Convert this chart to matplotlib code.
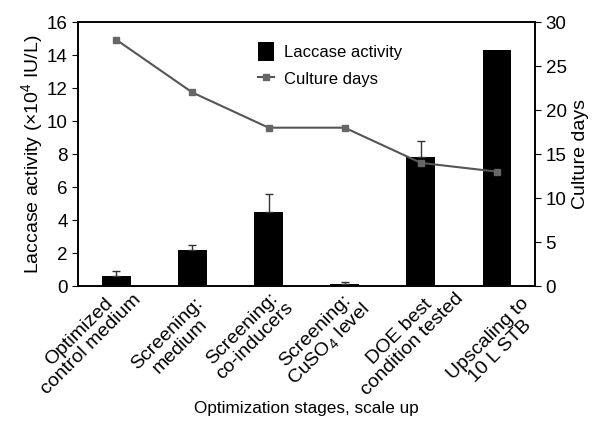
import matplotlib
matplotlib.use("Agg")
import matplotlib.pyplot as plt
import matplotlib.transforms as mtransforms
import numpy as np

plt.rcParams["font.family"] = ["Liberation Sans", "DejaVu Sans"]
plt.rcParams["mathtext.fontset"] = "custom"
plt.rcParams["mathtext.rm"] = "Liberation Sans"
plt.rcParams["mathtext.it"] = "Liberation Sans:italic"

stages = [
    "Optimized\ncontrol medium",
    "Screening:\nmedium",
    "Screening:\nco-inducers",
    "Screening:\nCuSO$_4$ level",
    "DOE best\ncondition tested",
    "Upscaling to\n10 L STB",
]
laccase = [0.6, 2.2, 4.5, 0.15, 7.8, 14.3]
laccase_err = [0.3, 0.3, 1.1, 0.07, 1.0, 0.0]
culture_days = [28, 22, 18, 18, 14, 13]

# hand-tuned pixel offsets of the rotated label blocks (as in the original)
label_dx = [-31, -19, -20, -22, -15, -3]
label_dy = [-52, -54, -49, -52, -52, -59]

x = np.arange(len(stages))
err = np.array(laccase_err)
has_err = err > 0

fig = plt.figure(figsize=(6.06, 4.34), dpi=100)
ax = fig.add_axes([0.129, 0.341, 0.754, 0.608])

bars = ax.bar(x, laccase, width=0.38, color="black", label="Laccase activity",
              zorder=2)
ax.errorbar(x[has_err], np.array(laccase)[has_err],
            yerr=[np.zeros(has_err.sum()), err[has_err]], fmt="none",
            ecolor="#333333", elinewidth=1, capsize=3, zorder=3)
ax.set_xlim(-0.5, 5.5)
ax.set_ylim(0, 16)
ax.set_yticks(range(0, 17, 2))
ax.set_xticks(x)
ax.set_xticklabels(stages, rotation=45, ha="center", va="center",
                   rotation_mode="anchor", multialignment="center",
                   fontsize=14, linespacing=1.05)
ax.tick_params(axis="x", length=0, pad=0)
for lbl, dx, dy in zip(ax.get_xticklabels(), label_dx, label_dy):
    shift = mtransforms.ScaledTranslation(dx / 100, dy / 100,
                                          fig.dpi_scale_trans)
    lbl.set_transform(lbl.get_transform() + shift)
ax.tick_params(axis="y", labelsize=13.5, direction="out", length=4)
ax.set_ylabel("Laccase activity (×10$^4$ IU/L)", fontsize=14, labelpad=1)
ax.set_xlabel("Optimization stages, scale up", fontsize=12.3)
ax.xaxis.set_label_coords(0.5, -0.436)

ax2 = ax.twinx()
line, = ax2.plot(x, culture_days, color="#555555", linewidth=1.5, marker="s",
                 markersize=5, markerfacecolor="#666666",
                 markeredgecolor="#666666", label="Culture days", zorder=4)
ax2.set_ylim(0, 30)
ax2.set_yticks(range(0, 31, 5))
ax2.tick_params(axis="y", labelsize=13.5, direction="out", length=4)
ax2.set_ylabel("Culture days", fontsize=14)

for a in (ax, ax2):
    for s in a.spines.values():
        s.set_linewidth(1.2)

ax2.legend([bars, line], ["Laccase activity", "Culture days"],
           loc="upper left", bbox_to_anchor=(0.36, 0.98), frameon=False,
           fontsize=12, handlelength=1.0, handleheight=1.3,
           handletextpad=0.6, labelspacing=0.55)

fig.savefig("out.png", dpi=100)
